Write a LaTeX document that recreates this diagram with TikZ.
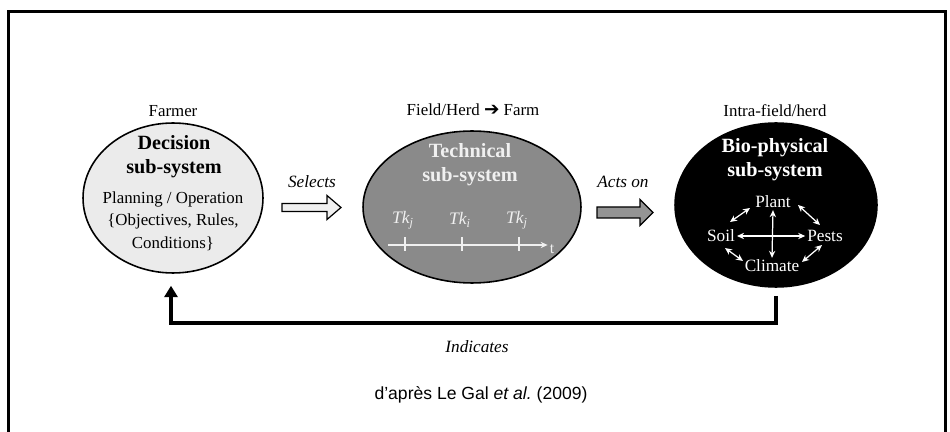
\documentclass[tikz,border=0pt]{standalone}
\usepackage{fontspec}
\setmainfont{Liberation Serif}
\newfontfamily\arialfont{Liberation Sans}
\newfontfamily\dejavu{DejaVu Sans}
\usepackage{xcolor}
\usetikzlibrary{arrows.meta,calc,positioning,shapes.geometric}
\definecolor{decfill}{gray}{0.92}
\definecolor{techfill}{gray}{0.54}
\definecolor{arrowgray}{gray}{0.58}
\definecolor{lightline}{gray}{0.94}

\begin{document}
\begin{tikzpicture}[x=0.02cm,y=-0.02cm,
    subsys/.style={draw=black, line width=0.9pt, ellipse, inner sep=0pt},
    title/.style={font=\fontsize{11.5}{13.6}\selectfont\bfseries, align=center},
    lbl/.style={font=\fontsize{9.6}{12.7}\selectfont, align=center},
    verb/.style={font=\fontsize{9.8}{12}\selectfont\itshape},
    bio/.style={font=\fontsize{9.8}{12}\selectfont, text=white, inner sep=1pt},
    bioarrow/.style={white, line width=0.7pt, {Stealth[length=4pt,width=3.6pt]}-{Stealth[length=4pt,width=3.6pt]}},
    blockarrow/.style={draw=black, line width=0.7pt, line join=miter},
    feedback/.style={line width=2.3pt, line join=miter, -{Triangle[length=6.5pt,width=7.5pt]}}]
      \useasboundingbox (0,0) rectangle (950,432);
      % Draw the frame
      \draw[line width=2pt] (8.5,445) -- (8.5,11.5) -- (945.5,11.5) -- (945.5,445);
      % Draw the scales
      \node[lbl] (farmer) at (173,111) {Farmer};
      \node[lbl] (fieldfarm) at (473,110) {Field/Herd {\dejavu\fontsize{10.5}{11}\selectfont ➔} Farm};
      \node[lbl] (intra) at (775,111) {Intra-field/herd};
      % Draw the sub-systems
      \node[subsys, fill=decfill, minimum width=3.6cm, minimum height=3cm] (decision) at (173,198) {};
      \node[subsys, fill=techfill, minimum width=4.36cm, minimum height=3.04cm] (technical) at (472,207) {};
      \node[subsys, fill=black, minimum width=4.04cm, minimum height=3.28cm] (biophys) at (776,205) {};
      \node[title] (dectitle) at (174,157) {Decision\\sub-system};
      \node[lbl] (dectext) at (173,221) {Planning / Operation\\\{Objectives, Rules,\\Conditions\}};
      \node[title, text=lightline] (techtitle) at (470,165) {Technical\\sub-system};
      \node[title, text=white] (biotitle) at (775,160) {Bio-physical\\sub-system};
      % time line
      \coordinate (t0) at (388,245);
      \node[font=\fontsize{9}{10}\selectfont, text=lightline, inner sep=1pt] (tlabel) at (552,249) {t};
      \draw[lightline, line width=0.7pt, -{Stealth[length=4pt,width=3.5pt]}] (t0) -- (tlabel.west |- t0);
      \foreach \x/\s in {405/j,462/i,519/j} {
        \draw[lightline, line width=0.7pt] (\x,237) -- (\x,251);
        \node[font=\fontsize{10}{12}\selectfont, text=lightline] (tk\x) at (\x-2,220) {{\itshape Tk}\textsubscript{\itshape\s}};
      }
      % bio-physical elements
      \node[bio] (plant) at (773,202) {Plant};
      \node[bio] (soil) at (721,236) {Soil};
      \node[bio] (pests) at (825,236) {Pests};
      \node[bio] (climate) at (772,266) {Climate};
      \draw[bioarrow] (plant.south) -- (climate.north);
      \draw[bioarrow] (soil.east) -- (pests.west);
      \draw[bioarrow] ([shift={(9,-14)}]soil.center) -- ([shift={(-23,6)}]plant.center);
      \draw[bioarrow] ([shift={(25,3)}]plant.center) -- ([shift={(-5,-11)}]pests.center);
      \draw[bioarrow] ([shift={(4,12)}]soil.center) -- ([shift={(-29,-5)}]climate.center);
      \draw[bioarrow] ([shift={(30,-4)}]climate.center) -- ([shift={(-3,9)}]pests.center);
      % block arrows
      \draw[blockarrow, fill=black!6] (282,203.5) -- (327,203.5) -- (327,195.5) -- (341,207.5) -- (327,219.5) -- (327,211.5) -- (282,211.5) -- cycle;
      \draw[blockarrow, fill=arrowgray] (597,207) -- (640,207) -- (640,199.5) -- (653,212.5) -- (640,225.5) -- (640,218) -- (597,218) -- cycle;
      \node[verb] (selects) at (312,182) {Selects};
      \node[verb] (actson) at (623,182) {Acts on};
      % feedback
      \draw[feedback] ($(biophys.south)+(0,8)$) -- ($(biophys.south)+(0,35)$) -| ($(decision.south)+(-2,12)$);
      \node[verb] (indicates) at (477,347) {Indicates};
      \node[font=\arialfont\fontsize{10}{12}\selectfont] (credit) at (481,395) {d’après Le Gal \textit{et al.}\ (2009)};
    \end{tikzpicture}
\end{document}
